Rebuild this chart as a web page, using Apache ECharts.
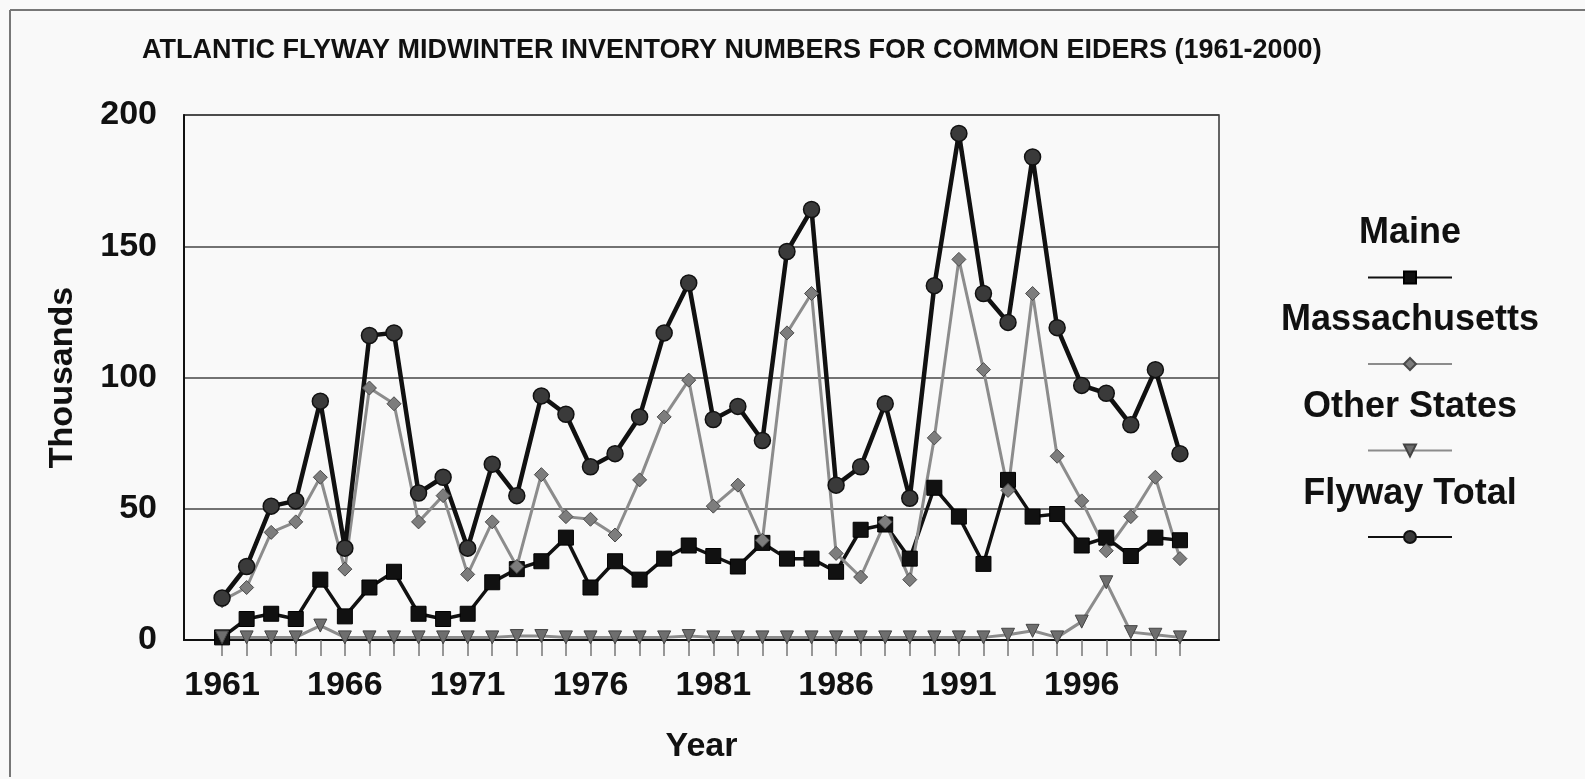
<!DOCTYPE html>
<html>
<head>
    <meta charset="utf-8">
    <title>Common Eiders</title>
    <script src="https://cdn.jsdelivr.net/npm/echarts@6.0.0/dist/echarts.min.js"></script>
    <style>
        html, body {
            margin: 0;
            padding: 0;
            background: #f9f9f9;
        }
        #chart {
            width: 1585px;
            height: 779px;
        }
    </style>
</head>
<body>
<div id="chart"></div>
<script>
    // years 1961-2000, values in thousands
    var years = [];
    for (var y = 1961; y <= 2000; y++) years.push(y);
    var yearLabels = [1961, 1966, 1971, 1976, 1981, 1986, 1991, 1996];
    var yTicks = [0, 50, 100, 150, 200];

    var maine = [1, 8, 10, 8, 23, 9, 20, 26, 10, 8, 10, 22, 27,
        30, 39, 20, 30, 23, 31, 36, 32, 28, 37, 31, 31,
        26, 42, 44, 31, 58, 47, 29, 61, 47, 48, 36, 39, 32, 39, 38];
    var massachusetts = [15, 20, 41, 45, 62, 27, 96, 90, 45, 55, 25, 45,
        28, 63, 47, 46, 40, 61, 85, 99, 51, 59, 38, 117, 132,
        33, 24, 45, 23, 77, 145, 103, 57, 132, 70, 53, 34, 47, 62, 31];
    var otherStates = [1, 1, 1, 1, 5.5, 1, 1, 1, 1, 1, 1, 1, 1.5,
        1.5, 1, 1, 1, 1, 1, 1.5, 1, 1, 1, 1, 1,
        1, 1, 1, 1, 1, 1, 1, 2, 3.5, 1, 7, 22, 3, 2, 1];
    var flywayTotal = [16, 28, 51, 53, 91, 35, 116, 117, 56, 62, 35, 67, 55,
        93, 86, 66, 71, 85, 117, 136, 84, 89, 76, 148, 164,
        59, 66, 90, 54, 135, 193, 132, 121, 184, 119, 97, 94, 82, 103, 71];

    var seriesNames = ['Maine', 'Massachusetts', 'Other States', 'Flyway Total'];

    function pairs(values) {
        return years.map(function (yr, i) {
            return [yr, values[i]];
        });
    }

    var font = "'Liberation Sans', Arial, sans-serif";
    var chart = echarts.init(document.getElementById('chart'));

    // legend labels sit above each legend line
    var titles = [{
        text: 'ATLANTIC FLYWAY MIDWINTER INVENTORY NUMBERS FOR COMMON EIDERS (1961-2000)',
        left: 137,
        top: 32,
        textStyle: {fontFamily: font, fontSize: 27, fontWeight: 'bold', color: '#111'}
    }];
    seriesNames.forEach(function (name, i) {
        titles.push({
            text: name,
            left: 1405,
            top: 210 + i * 87,
            textAlign: 'center',
            textStyle: {fontFamily: font, fontSize: 36, fontWeight: 'bold', color: '#111'}
        });
    });

    var option = {
        backgroundColor: '#f9f9f9',
        animation: false,
        title: titles,
        legend: {
            orient: 'vertical',
            left: 1362,
            top: 265,
            itemWidth: 84,
            itemHeight: 15,
            itemGap: 72,
            data: seriesNames,
            formatter: function () { return ''; }
        },
        grid: {
            left: 184,
            right: 366,
            top: 115,
            bottom: 139,
            show: true,
            borderColor: '#333',
            borderWidth: 1.5
        },
        xAxis: {
            type: 'value',
            min: 1959.45,
            max: 2001.59,
            name: 'Year',
            nameLocation: 'middle',
            nameGap: 90,
            nameTextStyle: {fontFamily: font, fontSize: 34, fontWeight: 'bold', color: '#111'},
            axisLine: {lineStyle: {color: '#111', width: 2}},
            axisTick: {
                show: true,
                length: 16,
                customValues: years,
                lineStyle: {color: '#777', width: 1.5}
            },
            axisLabel: {
                customValues: yearLabels,
                formatter: function (v) { return String(v); },
                margin: 29,
                fontFamily: font,
                fontSize: 34,
                fontWeight: 'bold',
                color: '#111'
            },
            splitLine: {show: false}
        },
        yAxis: {
            type: 'value',
            min: yTicks[0],
            max: yTicks[yTicks.length - 1],
            interval: 50,
            name: 'Thousands',
            nameLocation: 'middle',
            nameGap: 104,
            nameTextStyle: {fontFamily: font, fontSize: 34, fontWeight: 'bold', color: '#111'},
            axisLine: {show: true, lineStyle: {color: '#111', width: 2}},
            axisTick: {show: false},
            axisLabel: {
                margin: 27,
                fontFamily: font,
                fontSize: 34,
                fontWeight: 'bold',
                color: '#111'
            },
            splitLine: {lineStyle: {color: '#444', width: 1.5}}
        },
        graphic: [
            {type: 'line', shape: {x1: 10, y1: 10, x2: 1585, y2: 10}, style: {stroke: '#777', lineWidth: 2}},
            {type: 'line', shape: {x1: 10, y1: 10, x2: 10, y2: 777}, style: {stroke: '#777', lineWidth: 2}}
        ],
        series: [
            {
                name: 'Maine',
                type: 'line',
                data: pairs(maine),
                symbol: 'rect',
                symbolSize: 15,
                lineStyle: {color: '#111', width: 3.5},
                itemStyle: {color: '#111', borderColor: '#000', borderWidth: 1}
            },
            {
                name: 'Massachusetts',
                type: 'line',
                data: pairs(massachusetts),
                symbol: 'diamond',
                symbolSize: 14,
                lineStyle: {color: '#8c8c8c', width: 3},
                itemStyle: {color: '#7d7d7d', borderColor: '#4a4a4a', borderWidth: 1}
            },
            {
                name: 'Other States',
                type: 'line',
                data: pairs(otherStates),
                symbol: 'triangle',
                symbolRotate: 180,
                symbolSize: 13,
                lineStyle: {color: '#8c8c8c', width: 3},
                itemStyle: {color: '#6e6e6e', borderColor: '#444', borderWidth: 1}
            },
            {
                name: 'Flyway Total',
                type: 'line',
                data: pairs(flywayTotal),
                symbol: 'circle',
                symbolSize: 16,
                z: 3,
                lineStyle: {color: '#111', width: 4.5},
                itemStyle: {color: '#3a3a3a', borderColor: '#111', borderWidth: 1.5}
            }
        ]
    };
    chart.setOption(option);

    window.onresize = function () {
        chart.resize();
    };
</script>
</body>
</html>
